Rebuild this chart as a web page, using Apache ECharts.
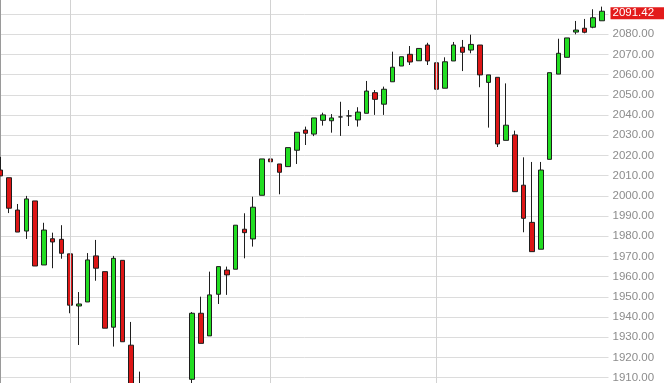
<!DOCTYPE html>
<html><head><meta charset="utf-8">
<script src="https://cdn.jsdelivr.net/npm/echarts@6/dist/echarts.min.js"></script>
<style>html,body{margin:0;padding:0;background:#fff}#c{width:664px;height:383px}</style>
</head><body><div id="c"></div>
<script>
// Daily candles, oldest first (the ones that fall below the visible range are estimates)
const opens  = [2012.8,2009.0,1993.0,1982.6,1997.5,1965.8,1978.8,1978.5,1971.3,1945.5,
                1947.5,1970.3,1962.5,1935.0,1968.1,1926.1,1897.0,1888.0,1880.0,1872.0,
                1885.0,1878.0,1909.2,1941.9,1930.7,1951.3,1963.3,1963.7,1983.5,1978.7,
                2000.3,2018.3,2015.8,2014.5,2022.6,2032.6,2030.6,2037.4,2037.2,2039.1,
                2039.6,2037.6,2040.9,2051.1,2045.4,2056.5,2064.3,2070.1,2066.9,2074.7,
                2065.9,2053.3,2066.8,2073.6,2072.2,2074.7,2056.2,2058.7,2027.5,2030.2,
                2005.3,1986.9,1973.6,2018.1,2060.3,2068.6,2081.1,2083.0,2083.5,2086.7];
const closes = [2009.9,1993.9,1982.1,1998.5,1965.3,1983.1,1977.2,1971.6,1945.9,1946.5,
                1968.3,1964.2,1934.5,1969.1,1927.8,1895.0,1888.0,1880.0,1872.0,1885.0,
                1878.0,1895.0,1941.9,1927.0,1951.0,1965.0,1960.9,1985.5,1981.8,1994.4,
                2018.3,2016.9,2011.7,2023.9,2031.5,2031.0,2038.6,2040.1,2038.6,2039.1,
                2039.6,2041.5,2051.9,2047.8,2052.8,2063.7,2068.9,2066.3,2073.0,2066.8,
                2052.8,2066.4,2074.7,2071.1,2075.0,2059.9,2059.9,2025.7,2035.0,2002.1,
                1988.9,1972.4,2012.8,2061.0,2070.6,2078.2,2082.1,2081.0,2088.2,2091.42];
const lows   = [2009.9,1991.5,1982.1,1978.7,1965.3,1965.8,1964.2,1968.9,1941.9,1926.2,
                1947.5,1958.0,1934.5,1925.4,1927.8,1890.0,1880.0,1870.0,1865.0,1866.0,
                1870.0,1872.0,1905.0,1927.0,1930.7,1946.5,1951.0,1963.7,1969.1,1974.9,
                2000.3,2013.7,2000.8,2014.5,2015.8,2025.2,2029.6,2034.8,2031.3,2029.7,
                2034.6,2034.3,2040.9,2040.1,2040.1,2056.5,2064.3,2064.8,2066.9,2064.8,
                2049.6,2053.3,2066.8,2061.8,2070.6,2053.8,2033.8,2024.2,2027.5,2002.1,
                1982.0,1972.4,1973.6,2018.1,2060.3,2068.6,2080.0,2080.5,2083.0,2086.7];
const highs  = [2019.3,2009.0,1996.0,2000.0,1997.5,1986.7,1981.8,1985.5,1971.3,1952.4,
                1971.7,1978.2,1962.5,1970.3,1968.1,1937.6,1913.0,1900.0,1895.0,1898.0,
                1900.0,1904.0,1942.5,1950.1,1962.5,1965.0,1965.0,1985.5,1991.4,1999.6,
                2018.3,2024.4,2015.8,2023.9,2031.5,2034.3,2038.6,2041.2,2040.5,2046.6,
                2042.5,2043.9,2056.9,2052.4,2054.1,2071.4,2068.9,2074.2,2073.0,2075.8,
                2065.9,2068.6,2076.2,2077.2,2079.8,2074.7,2059.9,2058.7,2055.7,2032.3,
                2019.1,2016.8,2016.8,2061.0,2077.8,2078.2,2086.6,2087.6,2092.4,2093.7];
const lastPrice = 2091.42;
const periodBreaks = [8, 31, 50];          // candle indices where vertical grid lines sit
const yMin = 1900, yMax = 2100, yStep = 10; // price ticks

const candles = opens.map((o, i) => [i, o, closes[i], lows[i], highs[i]]);
const FONT = "'Liberation Sans', Arial, sans-serif";

const chart = echarts.init(document.getElementById('c'), null, {renderer: 'canvas'});
chart.setOption({
  animation: false,
  backgroundColor: '#ffffff',
  grid: {left: 0, right: 55.5, top: -6.1, bottom: -14.9, containLabel: false, outerBoundsMode: 'none'},
  xAxis: {
    type: 'value', min: -0.032, max: 69.75,
    axisLine: {show: false}, axisTick: {show: false}, axisLabel: {show: false}, splitLine: {show: false}
  },
  yAxis: {
    type: 'value', position: 'right', min: yMin, max: yMax, interval: yStep,
    axisLine: {show: true, lineStyle: {color: '#9a9a9a', width: 1}},
    axisTick: {show: false},
    axisLabel: {
      color: '#8c8c8c', fontFamily: FONT, fontSize: 11.5, margin: 4,
      formatter: function (v) {
        const n = Number(v);
        return (n >= 2090 || n < 1910) ? '' : n.toFixed(2);
      }
    },
    splitLine: {show: true, lineStyle: {color: '#dcdcdc', width: 1}}
  },
  series: [
    {
      type: 'line', data: [], z: 1, silent: true,
      markLine: {
        silent: true, animation: false, symbol: ['none', 'none'],
        data: periodBreaks.map(v => ({xAxis: v})),
        lineStyle: {color: '#d2d2d2', width: 1, type: 'solid'},
        label: {show: false}
      }
    },
    {
      type: 'candlestick', data: candles, barWidth: 5, z: 3, clip: true,
      itemStyle: {
        color: '#22dd22', color0: '#dd1616',
        borderColor: '#1e1e1e', borderColor0: '#1e1e1e', borderColorDoji: '#1e1e1e', borderWidth: 1
      },
      markLine: {
        silent: true, animation: false, symbol: ['none', 'none'],
        data: [{yAxis: lastPrice}],
        lineStyle: {color: 'rgba(0,0,0,0)', width: 0},
        label: {
          show: true, position: 'end', distance: 2, offset: [0, 2],
          formatter: lastPrice.toFixed(2),
          color: '#ffffff', fontFamily: FONT, fontSize: 11.5, lineHeight: 11,
          backgroundColor: '#e31b1b', padding: [1, 12, 0, 2]
        }
      }
    }
  ]
});
</script>
</body></html>
